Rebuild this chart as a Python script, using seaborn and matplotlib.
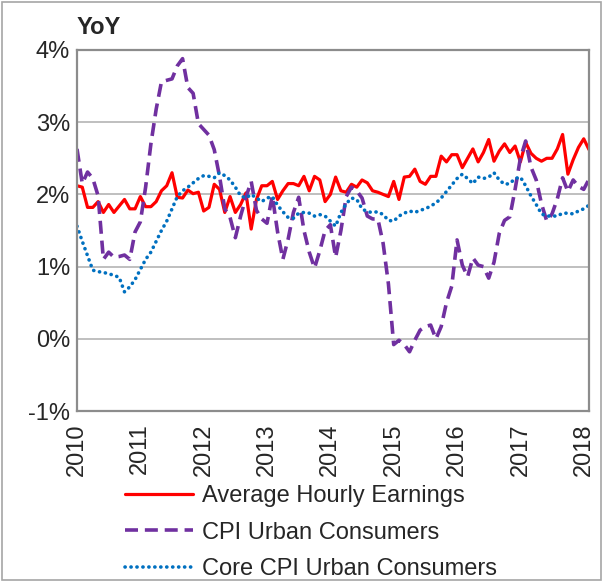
import matplotlib
matplotlib.use('Agg')
import matplotlib.pyplot as plt
import matplotlib.patches as patches
from matplotlib.ticker import MultipleLocator, FuncFormatter
import numpy as np
import pandas as pd
import seaborn as sns

# Monthly YoY % change, Jan 2010 - Feb 2018
months = pd.date_range('2010-01-01', periods=98, freq='MS')

hourly_earnings = [
    2.12, 2.10, 1.82, 1.82, 1.90, 1.75, 1.86, 1.75, 1.84, 1.93, 1.80, 1.80,
    1.97, 1.83, 1.83, 1.90, 2.05, 2.12, 2.30, 1.96, 1.95, 2.06, 2.01, 2.03,
    1.77, 1.82, 2.14, 2.07, 1.75, 1.97, 1.75, 1.86, 2.02, 1.52, 1.93, 2.12,
    2.12, 2.18, 1.93, 2.05, 2.15, 2.15, 2.12, 2.25, 2.05, 2.25, 2.20, 1.90,
    2.00, 2.24, 2.05, 2.03, 2.14, 2.10, 2.20, 2.16, 2.05, 2.03, 2.00, 1.97,
    2.18, 1.93, 2.24, 2.25, 2.35, 2.18, 2.14, 2.25, 2.25, 2.53, 2.45, 2.55,
    2.55, 2.37, 2.50, 2.63, 2.45, 2.58, 2.76, 2.46, 2.60, 2.70, 2.58, 2.67,
    2.45, 2.72, 2.57, 2.50, 2.46, 2.50, 2.50, 2.63, 2.83, 2.28, 2.48, 2.65,
    2.77, 2.62,
]

cpi_urban = [
    2.63, 2.15, 2.31, 2.22, 1.98, 1.10, 1.20, 1.13, 1.14, 1.16, 1.10, 1.48,
    1.62, 2.10, 2.70, 3.18, 3.56, 3.58, 3.60, 3.78, 3.88, 3.48, 3.40, 2.98,
    2.90, 2.82, 2.62, 2.25, 1.80, 1.68, 1.40, 1.70, 1.96, 2.18, 1.78, 1.66,
    1.60, 1.98, 1.48, 1.10, 1.38, 1.75, 1.96, 1.50, 1.20, 0.98, 1.22, 1.50,
    1.58, 1.13, 1.50, 1.97, 2.10, 2.05, 1.95, 1.70, 1.66, 1.66, 1.32, 0.76,
    -0.08, -0.02, -0.08, -0.18, -0.02, 0.12, 0.17, 0.19, 0.00, 0.17, 0.50, 0.73,
    1.37, 1.02, 0.86, 1.12, 1.02, 1.00, 0.84, 1.06, 1.46, 1.64, 1.69, 2.07,
    2.50, 2.74, 2.38, 2.20, 1.87, 1.63, 1.73, 1.94, 2.23, 2.04, 2.20, 2.11,
    2.07, 2.21,
]

core_cpi = [
    1.56, 1.35, 1.15, 0.95, 0.93, 0.92, 0.90, 0.88, 0.85, 0.65, 0.72, 0.82,
    0.96, 1.10, 1.20, 1.35, 1.50, 1.63, 1.80, 1.97, 2.05, 2.10, 2.16, 2.22,
    2.26, 2.25, 2.23, 2.30, 2.26, 2.20, 2.10, 1.98, 1.95, 2.00, 1.95, 1.90,
    1.95, 1.97, 1.85, 1.76, 1.68, 1.67, 1.74, 1.75, 1.74, 1.70, 1.72, 1.70,
    1.63, 1.56, 1.75, 1.87, 1.95, 1.93, 1.80, 1.76, 1.75, 1.76, 1.72, 1.64,
    1.63, 1.70, 1.74, 1.77, 1.75, 1.78, 1.80, 1.84, 1.88, 1.95, 2.04, 2.13,
    2.22, 2.28, 2.22, 2.15, 2.24, 2.22, 2.24, 2.30, 2.20, 2.14, 2.15, 2.22,
    2.24, 2.12, 1.98, 1.86, 1.73, 1.70, 1.70, 1.70, 1.74, 1.74, 1.73, 1.77,
    1.80, 1.85,
]

series_names = ['Average Hourly Earnings', 'CPI Urban Consumers', 'Core CPI Urban Consumers']

df = pd.DataFrame({
    'x': months.year + (months.month - 1) / 12,
    series_names[0]: hourly_earnings,
    series_names[1]: cpi_urban,
    series_names[2]: core_cpi,
})

sns.set_style('white')
plt.rcParams['font.family'] = ['Liberation Sans', 'DejaVu Sans']

fig = plt.figure(figsize=(6.03, 5.81), dpi=100)
ax = fig.add_axes([77 / 603, 1 - 411 / 581, 512 / 603, 361 / 581])

# Average hourly earnings: solid red
sns.lineplot(data=df, x='x', y=series_names[0], color='#FF0000', lw=2.3,
             label=series_names[0], ax=ax)
# CPI: dashed purple
sns.lineplot(data=df, x='x', y=series_names[1], color='#7030A0', lw=2.6,
             label=series_names[1], ax=ax)
ax.lines[-1].set_dashes((3.6, 1.9))
# Core CPI: round dots blue
sns.lineplot(data=df, x='x', y=series_names[2], color='#0070C0', lw=2.6,
             label=series_names[2], ax=ax)
ax.lines[-1].set_dashes((0.05, 1.6))
ax.lines[-1].set_dash_capstyle('round')

ax.set_xlim(df['x'].iloc[0], df['x'].iloc[-1])
ax.set_ylim(-1, 4)
ax.xaxis.set_major_locator(MultipleLocator(1))
ax.xaxis.set_minor_locator(MultipleLocator(0.5))
ax.xaxis.set_major_formatter(FuncFormatter(lambda v, p: f'{int(round(v))}'))
ax.yaxis.set_major_locator(MultipleLocator(1))
ax.yaxis.set_major_formatter(FuncFormatter(lambda v, p: f'{int(round(v))}%'))

ax.grid(axis='y', color='#BFBFBF', lw=1.4)
ax.set_axisbelow(True)
for s in ax.spines.values():
    s.set_visible(True)
    s.set_color('#8C8C8C')
    s.set_linewidth(1.6)

ax.tick_params(axis='x', which='both', direction='out', length=6, width=1.4,
               color='#8C8C8C', labelsize=17, labelrotation=90, pad=3)
ax.tick_params(axis='y', length=0, labelsize=17, pad=5)
ax.set_xlabel('')
ax.set_ylabel('')

ax.get_legend().remove()
handles, labels = ax.get_legend_handles_labels()
fig.legend(handles, labels, loc='upper left', bbox_to_anchor=(125 / 603, 1 - 485 / 581),
           frameon=False, fontsize=17, borderpad=0, borderaxespad=0,
           handlelength=2.9, handletextpad=0.35, labelspacing=0.62)

fig.text(77 / 603, 1 - 28 / 581, 'YoY', fontsize=17, fontweight='bold', va='center')

# outer chart border
fig.patches.append(patches.Rectangle((0.003, 0.002), 0.994, 0.995, transform=fig.transFigure,
                                     fill=False, edgecolor='#A6A6A6', lw=1.2))

fig.savefig('out.png', dpi=100)
